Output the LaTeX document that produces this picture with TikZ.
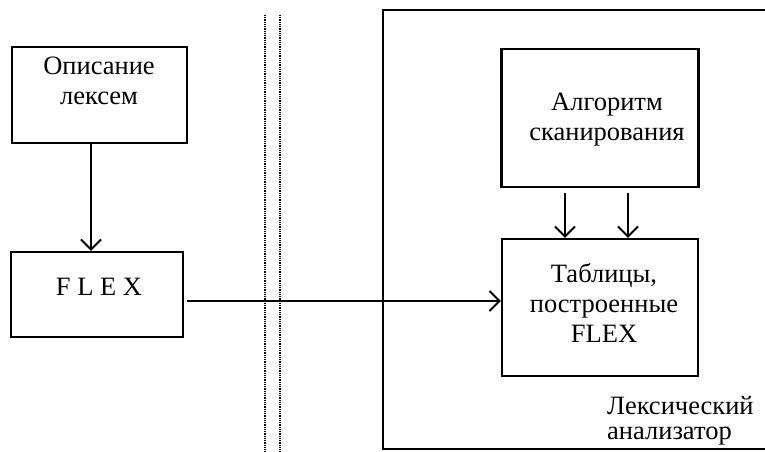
\documentclass[tikz,border=0pt]{standalone}
\usepackage{fontspec}
\setmainfont{Liberation Serif}
\usetikzlibrary{arrows.meta,calc}
\begin{document}
\begin{tikzpicture}[x=1pt,y=-1pt,
  box/.style={draw,line width=2.2pt,minimum width=#1,inner sep=0pt},
  lbl/.style={font=\fontsize{26.5}{30}\selectfont,align=center,inner sep=0pt},
  arr/.style={line width=2pt,-{Straight Barb[length=10pt,width=20pt,line width=2pt]}},
  dots/.style={line width=1.3pt,dash pattern=on 1pt off 0.8pt}]
\useasboundingbox (0,0) rectangle (765,452);
% left boxes
\node[box=175pt,minimum height=96pt] (b1) at (99.5,95) {};
\node[lbl] (t1) at (99,81) {Описание\\лексем};
\node[box=172pt,minimum height=85pt] (b2) at (97,294.5) {};
\node[lbl] (t2) at (99,287) {F L E X};
% dotted separators
\coordinate (d1a) at (265,15); \coordinate (d1b) at (265,452);
\coordinate (d2a) at (280,15); \coordinate (d2b) at (280,452);
\draw[dots] (d1a) -- (d1b);
\draw[dots] (d2a) -- (d2b);
% big box (open to the right)
\coordinate (g1) at (766,10); \coordinate (g2) at (383,10);
\coordinate (g3) at (383,449); \coordinate (g4) at (766,449);
\draw[line width=2.2pt] (g1) -- (g2) -- (g3) -- (g4);
% right boxes
\node[box=197pt,minimum height=138pt] (b3) at (600,118) {};
\node[lbl] (t3) at (607,120) {Алгоритм\\сканирования};
\node[box=196pt,minimum height=137pt] (b4) at (600,307.5) {};
\node[lbl] (t4) at (604,303) {Таблицы,\\построенные\\FLEX};
\node[font=\fontsize{26.5}{25}\selectfont,align=left,inner sep=0pt,anchor=west] (t5) at (607,421) {Лексический\\анализатор};
% connectors
\coordinate (a1) at (91,0);
\draw[arr] (b1.south -| a1) -- (b2.north -| a1);
\coordinate (h) at (0,301);
\draw[arr,shorten <=3pt] (b2.east |- h) -- (b4.west |- h);
\coordinate (v1) at (565,0); \coordinate (v2) at (628,0);
\draw[arr,shorten <=5pt] (b3.south -| v1) -- (b4.north -| v1);
\draw[arr,shorten <=5pt] (b3.south -| v2) -- (b4.north -| v2);
\end{tikzpicture}
\end{document}
